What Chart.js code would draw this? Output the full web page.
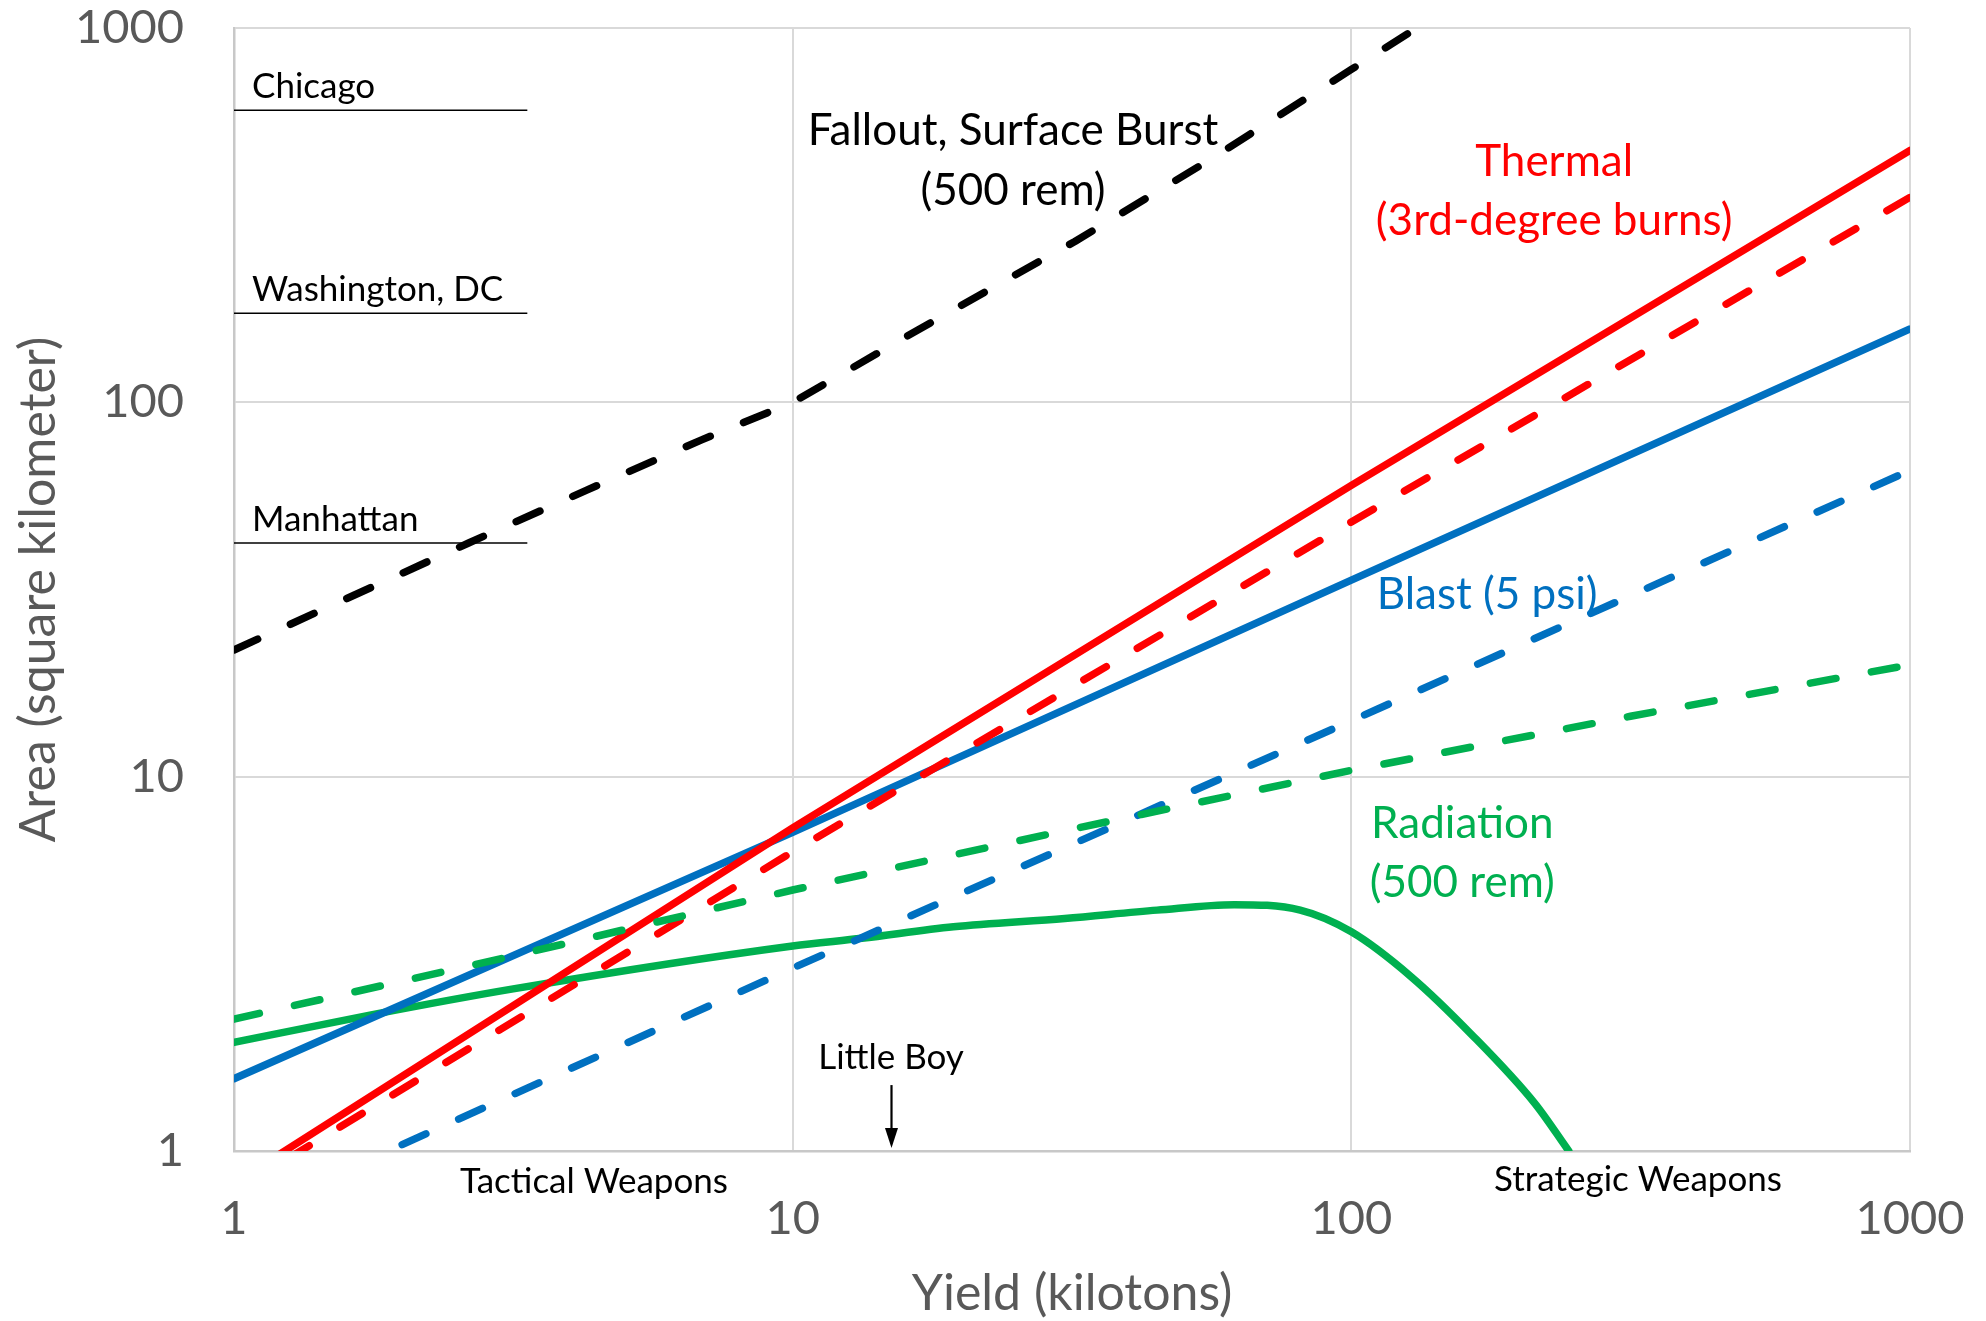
<!DOCTYPE html>
<html><head><meta charset="utf-8">
<script src="https://cdn.jsdelivr.net/npm/chart.js@4.4.1/dist/chart.umd.min.js"></script>
<style>html,body{margin:0;padding:0;background:#fff;} #wrap{width:1986px;height:1321px;}</style>
</head><body><div id="wrap"><canvas id="c" width="1986" height="1321"></canvas></div>
<script>
// ---- data (yield in kilotons, area in km²) ----
const decadeTicks = [1, 10, 100, 1000];
const tickLabels = ['1', '10', '100', '1000'];

const fallX = [1, 2.63, 4.27, 6.87, 10, 16, 23, 32, 56, 100, 131];
const fallY = [21.8, 42.1, 58.2, 79.4, 100, 150, 204, 269, 446, 775, 1000];

const thermX = [1, 10, 100, 1000];
const thermY = [0.82, 7.3, 60, 471];

const thermDashX = [1, 10, 100, 1000];
const thermDashY = [0.78, 6.3, 47.9, 353];

const blastX = [1, 10, 100, 1000];
const blastY = [1.56, 7.1, 33.5, 157];

const blastDashX = [2, 10, 100, 1000];
const blastDashY = [1.04, 3.08, 14.1, 65.8];

const radDashX = [1, 3.16, 10, 31.6, 100, 316, 1000];
const radDashY = [2.25, 3.32, 4.98, 7.24, 10.4, 14.5, 19.9];

const radX = [1, 1.76, 3.16, 10, 13.3, 19.4, 30.7, 44.9, 61.7, 81, 100, 128, 164, 213, 245];
const radY = [1.95, 2.31, 2.71, 3.53, 3.70, 3.97, 4.18, 4.40, 4.55, 4.40, 3.85, 2.92, 2.05, 1.34, 1.0];

const cityNames = ['Chicago', 'Washington, DC', 'Manhattan'];
const cityArea = [603, 173, 42.1];
const cityLineX = [1, 3.35];

const littleBoyYield = 15;

// ---- helpers ----
const pts = (xs, ys) => xs.map((v, i) => ({x: v, y: ys[i]}));
const DASH = [26, 36];
const LW = 7.5;
const RED = '#FF0000', BLUE = '#0070C0', GREEN = '#00B050';
const FONT = 'Lato';

function lineDS(data, color, dashed, extra) {
  return Object.assign({
    data, borderColor: color, backgroundColor: color, borderWidth: LW,
    borderDash: dashed ? DASH : [], borderCapStyle: 'round', borderJoinStyle: 'round',
    pointRadius: 0, pointHoverRadius: 0, tension: 0, fill: false
  }, extra || {});
}

const datasets = [
  lineDS(pts(radDashX, radDashY), GREEN, true),
  lineDS(pts(thermX, thermY), RED, false),
  lineDS(pts(thermDashX, thermDashY), RED, true),
  lineDS(pts(blastX, blastY), BLUE, false),
  lineDS(pts(blastDashX, blastDashY), BLUE, true),
  lineDS(pts(radX, radY), GREEN, false, {cubicInterpolationMode: 'monotone'}),
  lineDS(pts(fallX, fallY), '#000000', true),
];
cityArea.forEach(a => {
  datasets.push({data: pts(cityLineX, [a, a]), borderColor: '#000', borderWidth: 1.6,
    pointRadius: 0, tension: 0, fill: false, borderCapStyle: 'butt'});
});

const notesPlugin = {
  id: 'notes',
  afterDatasetsDraw(chart) {
    const {ctx, scales: {x, y}} = chart;
    const px = v => x.getPixelForValue(v), py = v => y.getPixelForValue(v);
    const notes = [
      {t: 'Fallout, Surface Burst', x: 24.8, y: 531, c: '#000', s: 44, a: 'center'},
      {t: '(500 rem)', x: 24.8, y: 368, c: '#000', s: 44, a: 'center'},
      {t: 'Thermal', x: 230.7, y: 440, c: RED, s: 44, a: 'center'},
      {t: '(3rd-degree burns)', x: 230.7, y: 305, c: RED, s: 44, a: 'center'},
      {t: 'Blast (5 psi)', x: 111, y: 30.7, c: BLUE, s: 44, a: 'left'},
      {t: 'Radiation', x: 158, y: 7.5, c: GREEN, s: 44, a: 'center'},
      {t: '(500 rem)', x: 158, y: 5.2, c: GREEN, s: 44, a: 'center'},
      {t: 'Little Boy', x: littleBoyYield, y: 1.78, c: '#000', s: 35, a: 'center'},
      {t: 'Tactical Weapons', x: 4.41, y: 0.826, c: '#000', s: 35, a: 'center'},
      {t: 'Strategic Weapons', x: 326, y: 0.84, c: '#000', s: 35, a: 'center'},
    ];
    ctx.save();
    ctx.textBaseline = 'middle';
    for (const n of notes) {
      ctx.font = `${n.s}px ${FONT}`; ctx.fillStyle = n.c; ctx.textAlign = n.a;
      ctx.fillText(n.t, px(n.x), py(n.y));
    }
    // city labels (sit just above their lines)
    ctx.font = `35px ${FONT}`; ctx.fillStyle = '#000'; ctx.textAlign = 'left'; ctx.textBaseline = 'alphabetic';
    cityNames.forEach((nm, i) => ctx.fillText(nm, px(1.077), py(cityArea[i]) - 12));
    // Little Boy arrow
    const ax = Math.round(px(littleBoyYield)) + 0.5;
    const y0 = py(1.5), y1 = py(1.0) - 3;
    ctx.strokeStyle = '#000'; ctx.lineWidth = 2.2;
    ctx.beginPath(); ctx.moveTo(ax, y0); ctx.lineTo(ax, y1 - 18); ctx.stroke();
    ctx.fillStyle = '#000';
    ctx.beginPath(); ctx.moveTo(ax - 6.5, y1 - 20); ctx.lineTo(ax + 6.5, y1 - 20); ctx.lineTo(ax, y1); ctx.closePath(); ctx.fill();
    ctx.restore();
  }
};

function zeroPad(s) { s.paddingTop = 0; s.paddingBottom = 0; s.paddingLeft = 0; s.paddingRight = 0; }

const axisCommon = (title) => ({
  type: 'logarithmic', min: 1, max: 1000,
  afterBuildTicks: s => { s.ticks = decadeTicks.map(v => ({value: v})); },
  grid: {color: '#D9D9D9', lineWidth: 2, drawTicks: false},
  border: {color: '#C8C8C8', width: 2.5},
  ticks: {
    color: '#595959', font: {family: FONT, size: 47, lineHeight: 1},
    autoSkip: false, maxRotation: 0,
    callback: (v) => { const i = decadeTicks.indexOf(v); return i >= 0 ? tickLabels[i] : ''; }
  },
  title: {display: true, text: title, color: '#595959', font: {family: FONT, size: 50, lineHeight: 1}}
});

const xAxis = axisCommon('Yield (kilotons)');
xAxis.ticks.padding = 44;
xAxis.title.padding = {top: 0, bottom: 2};
xAxis.afterFit = s => { s.height = 170; zeroPad(s); };

const yAxis = axisCommon('Area (square kilometer)');
yAxis.ticks.padding = 50;
yAxis.title.padding = {top: 14, bottom: 0};
yAxis.afterFit = s => { s.width = 234; zeroPad(s); };

new Chart(document.getElementById('c'), {
  type: 'line',
  data: {datasets},
  options: {
    responsive: false, devicePixelRatio: 1, animation: false,
    layout: {padding: {top: 28, right: 76, bottom: 0, left: 0}},
    plugins: {legend: {display: false}, tooltip: {enabled: false}},
    scales: {x: xAxis, y: yAxis}
  },
  plugins: [notesPlugin]
});
</script>
</body></html>
